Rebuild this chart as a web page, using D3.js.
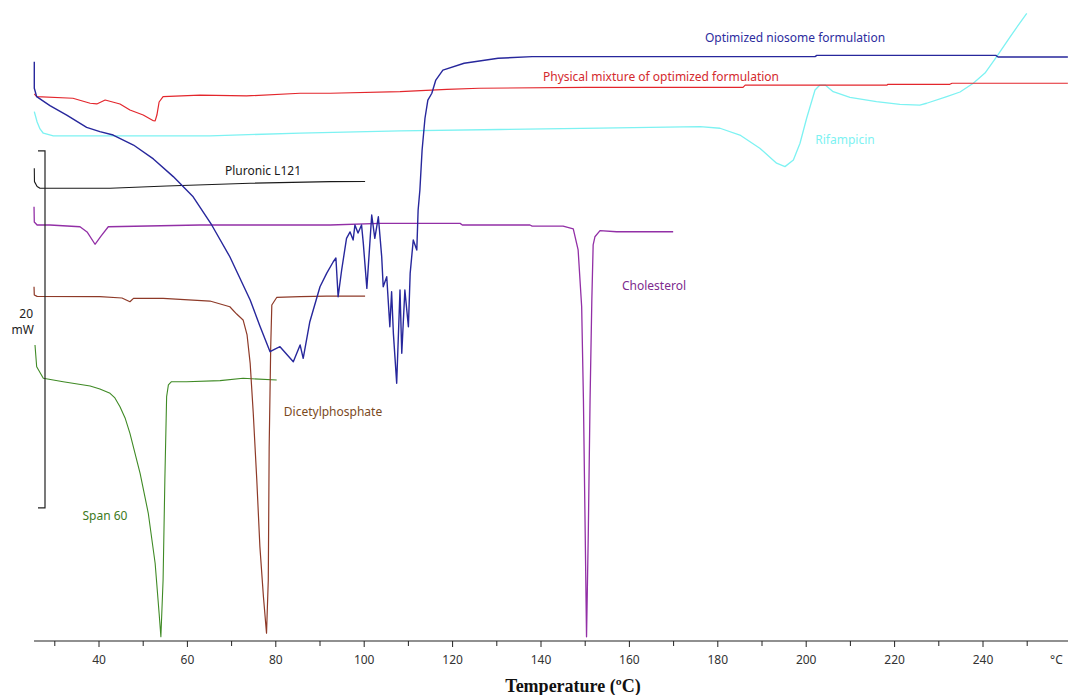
<!DOCTYPE html>
<html>
<head>
<meta charset="utf-8">
<script src="https://cdn.jsdelivr.net/npm/d3@7"></script>
<style>
  body { margin: 0; background: #fff; }
  svg { display: block; }
  .lbl { font-family: Tahoma, "Noto Sans", "DejaVu Sans", sans-serif; font-size: 12px; }
</style>
</head>
<body>
<div class="dsc"></div>
<script>

// temperature (°C), heat flow (mW, arbitrary stacking offset)
var niosome = [[25.36,32.40],[25.36,30.91],[25.9,30.44],[28.9,29.94],[32.7,29.41],[37.2,28.72],[40.2,28.48],
    [43.2,28.29],[47.8,27.73],[52.3,26.95],[56.8,25.96],[61.3,24.83],[65.5,23.25],[69.6,21.47],[74.2,19.05],
    [76.4,17.59],[78.7,16.15],[79.8,16.30],[80.95,16.43],[83.96,15.59],[85.5,16.53],[86.2,15.78],[87.7,17.83],
    [90.0,19.79],[91.5,20.54],[93.0,21.19],[93.6,21.40],[94.1,19.23],[94.9,20.73],[96.0,22.50],[96.8,22.86],
    [97.5,22.41],[97.9,23.25],[98.6,22.80],[99.4,23.25],[99.8,22.22],[100.6,19.70],[101.7,23.81],[102.4,22.50],
    [103.2,23.71],[103.96,21.47],[104.3,19.79],[105.1,20.35],[105.8,17.55],[106.2,19.51],[106.6,17.18],
    [107.35,14.38],[108.1,19.61],[108.5,16.06],[109.2,19.61],[110.0,17.55],[110.4,20.54],[111.1,22.41],
    [111.9,21.85],[112.2,24.09],[112.6,25.21],[113.1,27.45],[113.75,29.23],[114.4,30.25],[115.3,30.63],
    [116.2,31.37],[117.8,31.93],[122.6,32.31],[130.3,32.59],[138.0,32.68],[202.0,32.68],[202.4,32.75],
    [242.9,32.75],[243.4,32.66],[259.2,32.66]];

var physMix = [[25.36,30.59],[25.9,30.44],[34.1,30.35],[38.0,30.07],[39.5,30.03],[41.4,30.25],[44.75,30.03],
    [47.0,29.69],[50.0,29.41],[52.3,29.09],[52.7,29.08],[53.1,29.41],[53.6,30.14],[54.5,30.44],[62.85,30.53],
    [73.4,30.48],[85.5,30.63],[92.3,30.63],[108.1,30.72],[118.7,30.85],[126.0,30.91],[150.0,30.96],[185.7,30.96],
    [186.2,31.09],[218.3,31.09],[218.5,31.13],[232.5,31.13],[233.0,31.19],[259.2,31.19]];

var rifampicin = [[25.36,29.60],[26.0,29.02],[26.65,28.63],[27.4,28.39],[29.66,28.24],[65.1,28.24],[85.5,28.40],
    [108.1,28.52],[130.7,28.60],[153.3,28.68],[176.0,28.76],[180.5,28.67],[185.0,28.29],[189.5,27.55],
    [193.3,26.71],[195.2,26.52],[197.1,26.89],[198.6,27.83],[200.1,29.23],[202.0,30.81],[203.1,31.09],
    [204.3,31.09],[206.1,30.72],[209.9,30.40],[215.9,30.16],[221.2,30.01],[225.7,29.97],[227.25,30.07],
    [231.8,30.44],[234.8,30.70],[237.8,31.19],[240.45,31.76],[243.1,32.68],[246.1,33.78],[249.9,35.11]];

var pluronic = [[25.36,26.43],[25.4,25.68],[26.0,25.41],[26.65,25.31],[42.5,25.31],[55.3,25.43],[74.2,25.59],
    [92.3,25.68],[100.2,25.69]];

var cholesterol = [[25.3,24.27],[25.36,23.42],[26.0,23.25],[28.9,23.25],[35.7,23.15],[37.3,22.86],[39.1,22.17],
    [40.45,22.63],[42.1,23.15],[62.85,23.25],[92.3,23.25],[103.6,23.34],[121.7,23.34],[122.2,23.25],[137.5,23.25],
    [138.0,23.19],[145.0,23.19],[147.3,23.03],[148.4,21.85],[149.2,18.67],[149.6,13.45],[150.0,5.98],[150.3,0.18],
    [150.7,5.98],[151.1,13.45],[151.5,19.05],[151.8,22.13],[152.2,22.59],[153.35,22.93],[157.1,22.87],[169.9,22.87]];

var dicetyl = [[25.3,19.79],[25.36,19.33],[26.0,19.25],[40.2,19.24],[45.2,19.16],[47.0,18.95],[47.8,19.14],
    [54.5,19.14],[65.1,18.99],[69.6,18.67],[71.15,18.26],[72.6,17.93],[73.5,17.09],[74.2,15.50],[74.9,12.70],
    [75.7,8.96],[76.4,5.23],[77.2,2.43],[77.9,0.38],[78.3,3.36],[78.5,10.83],[78.85,16.43],[79.1,18.77],
    [80.2,19.19],[85.5,19.24],[91.5,19.27],[100.2,19.27]];

var span60 = [[25.52,16.53],[25.9,15.31],[27.4,14.66],[31.9,14.47],[38.0,14.23],[40.2,14.06],[42.5,13.82],
    [43.6,13.56],[44.75,13.07],[45.9,12.44],[47.0,11.58],[49.3,9.34],[51.15,7.10],[52.7,4.30],[53.6,1.50],
    [54.0,0.18],[54.5,3.36],[54.9,8.96],[55.3,13.63],[55.7,14.29],[56.4,14.47],[59.8,14.47],[67.4,14.53],
    [72.6,14.66],[80.2,14.57]];

var majorTicks = [40, 60, 80, 100, 120, 140, 160, 180, 200, 220, 240];
var minorTicks = [30, 50, 70, 90, 110, 130, 150, 170, 190, 210, 230, 250];
var scaleBar = [7.4, 27.4]; // 20 mW

var width = 1068, height = 695;

var svg = d3.select('.dsc')
    .append('svg')
    .attr('width', width)
    .attr('height', height);

var x = d3.scaleLinear().domain([40, 240]).range([99, 983]);
var y = d3.scaleLinear().domain([0, 20]).range([640, 283]);

var line = d3.line()
    .x(d => x(d[0]))
    .y(d => y(d[1]));

var series = [
    { data: span60, color: '#3f8a25', w: 1.1 },
    { data: dicetyl, color: '#8e3a28', w: 1.2 },
    { data: cholesterol, color: '#922fa6', w: 1.3 },
    { data: pluronic, color: '#1a1a1a', w: 1.1 },
    { data: rifampicin, color: '#7df2f2', w: 1.3 },
    { data: physMix, color: '#e3262c', w: 1.2 },
    { data: niosome, color: '#27279c', w: 1.4 }
];

svg.selectAll('path.curve')
    .data(series)
    .enter()
    .append('path')
    .attr('class', 'curve')
    .attr('fill', 'none')
    .attr('stroke', d => d.color)
    .attr('stroke-width', d => d.w)
    .attr('stroke-linejoin', 'round')
    .attr('d', d => line(d.data));

// x axis
var axisY = 641;
var xAxis = svg.append('g')
    .attr('transform', 'translate(0,' + axisY + ')');

xAxis.append('line')
    .attr('x1', x(25.3)).attr('x2', width)
    .attr('stroke', '#222').attr('stroke-width', 1.2);

xAxis.selectAll('line.major')
    .data(majorTicks)
    .enter()
    .append('line')
    .attr('x1', d => x(d)).attr('x2', d => x(d))
    .attr('y1', 0).attr('y2', 6)
    .attr('stroke', '#222');

xAxis.selectAll('line.minor')
    .data(minorTicks)
    .enter()
    .append('line')
    .attr('x1', d => x(d)).attr('x2', d => x(d))
    .attr('y1', 0).attr('y2', 5)
    .attr('stroke', '#222');

xAxis.selectAll('text')
    .data(majorTicks)
    .enter()
    .append('text')
    .attr('class', 'lbl')
    .attr('x', d => x(d))
    .attr('y', 23)
    .attr('text-anchor', 'middle')
    .attr('fill', '#333')
    .text(d => d);

xAxis.append('text')
    .attr('class', 'lbl')
    .attr('x', 1050)
    .attr('y', 23)
    .attr('fill', '#333')
    .text('°C');

svg.append('text')
    .attr('x', 573)
    .attr('y', 692)
    .attr('text-anchor', 'middle')
    .style('font-family', '"Liberation Serif", "Times New Roman", serif')
    .style('font-weight', 'bold')
    .style('font-size', '18px')
    .attr('fill', '#111')
    .text('Temperature (ºC)');

// 20 mW scale bar
var barX = 45;
svg.append('path')
    .attr('fill', 'none')
    .attr('stroke', '#222')
    .attr('stroke-width', 1.2)
    .attr('d', 'M' + (barX - 7) + ',' + y(scaleBar[1]) + 'H' + barX + 'V' + y(scaleBar[0]) + 'H' + (barX - 7));

svg.append('text').attr('class', 'lbl')
    .attr('x', 33).attr('y', 318).attr('text-anchor', 'end').attr('fill', '#222')
    .text('20');
svg.append('text').attr('class', 'lbl')
    .attr('x', 34).attr('y', 334).attr('text-anchor', 'end').attr('fill', '#222')
    .text('mW');

// curve labels
var labels = [
    { t: 'Optimized niosome formulation', x: 795, y: 42, c: '#2d2d9e' },
    { t: 'Physical mixture of optimized formulation', x: 661, y: 81, c: '#d42a2e' },
    { t: 'Rifampicin', x: 845, y: 144, c: '#7df2f2' },
    { t: 'Pluronic L121', x: 263, y: 175, c: '#1a1a1a' },
    { t: 'Cholesterol', x: 654, y: 290, c: '#7d2b8e' },
    { t: 'Dicetylphosphate', x: 333, y: 416, c: '#7b4a1e' },
    { t: 'Span 60', x: 105, y: 520, c: '#3c7a22' }
];

svg.selectAll('text.curveLabel')
    .data(labels)
    .enter()
    .append('text')
    .attr('class', 'lbl curveLabel')
    .attr('x', d => d.x)
    .attr('y', d => d.y)
    .attr('text-anchor', 'middle')
    .attr('fill', d => d.c)
    .text(d => d.t);

</script>
</body>
</html>
